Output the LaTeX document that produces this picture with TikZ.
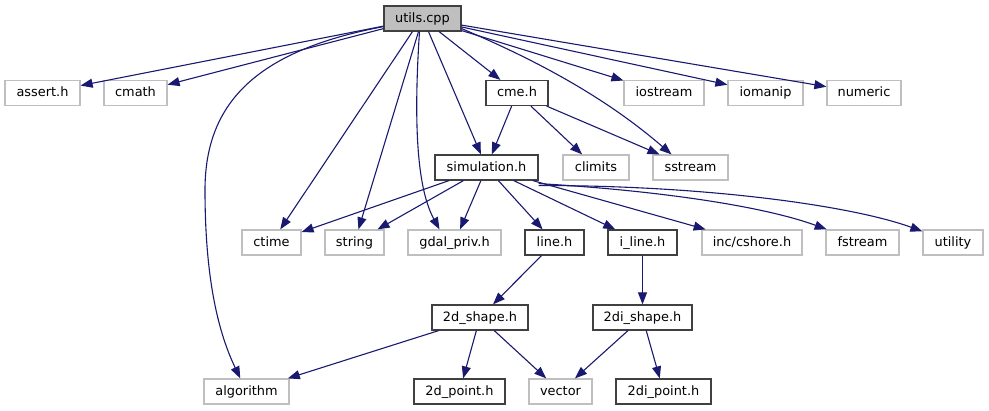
\documentclass[tikz,border=0pt]{standalone}
\usepackage{fontspec}
\setmainfont{DejaVu Sans}
\usepackage{tikz}
\usetikzlibrary{arrows.meta,calc}

\definecolor{edgeblue}{HTML}{191970}
\definecolor{extgray}{HTML}{BFBFBF}
\definecolor{docgray}{HTML}{404040}

\begin{document}
\begin{tikzpicture}[x=1pt,y=-1pt,
  box/.style={minimum height=25pt,inner sep=0pt,text height=9pt,text depth=1.6pt,
    line width=1.2pt,fill=white,font=\fontsize{12.9}{15}\selectfont},
  ext/.style={box,draw=extgray},
  doc/.style={box,draw=docgray},
  dep/.style={edgeblue,line width=1.1pt,-{Triangle[length=12pt,width=9pt]}}]
\useasboundingbox (0,0) rectangle (989,411);

\node[doc,fill=extgray,minimum width=77pt] (utils) at (422.5,18.5) {utils.cpp};

\node[ext,minimum width=75pt] (assert) at (42.5,93) {assert.h};
\node[ext,minimum width=63pt] (cmath) at (135.5,93) {cmath};
\node[doc,minimum width=62pt] (cme) at (517,93) {cme.h};
\node[ext,minimum width=80pt] (iostream) at (664,93) {iostream};
\node[ext,minimum width=75pt] (iomanip) at (765.5,93) {iomanip};
\node[ext,minimum width=74pt] (numeric) at (864,93) {numeric};

\node[doc,minimum width=103pt] (sim) at (486.5,167.5) {simulation.h};
\node[ext,minimum width=66pt] (climits) at (596,167.5) {climits};
\node[ext,minimum width=75pt] (sstream) at (690.5,167.5) {sstream};

\node[ext,minimum width=59pt] (ctime) at (271.5,242.5) {ctime};
\node[ext,minimum width=59pt] (string) at (354.5,242.5) {string};
\node[ext,minimum width=93pt] (gdal) at (454.5,242.5) {gdal\_priv.h};
\node[doc,minimum width=59pt] (line) at (554.5,242.5) {line.h};
\node[doc,minimum width=69pt] (iline) at (642.5,242.5) {i\_line.h};
\node[ext,minimum width=100pt] (cshore) at (752,242.5) {inc/cshore.h};
\node[ext,minimum width=73pt] (fstream) at (862.5,242.5) {fstream};
\node[ext,minimum width=60pt] (utility) at (953,242.5) {utility};

\node[doc,minimum width=96pt] (shape) at (480,317.5) {2d\_shape.h};
\node[doc,minimum width=99pt] (ishape) at (642.5,317.5) {2di\_shape.h};

\node[ext,minimum width=85pt] (algorithm) at (246.5,391.5) {algorithm};
\node[doc,minimum width=91pt] (point) at (459.5,391.5) {2d\_point.h};
\node[ext,minimum width=63pt] (vector) at (560.5,391.5) {vector};
\node[doc,minimum width=95pt] (ipoint) at (663.5,391.5) {2di\_point.h};

\coordinate (gdalin) at ($(gdal.north)+(-15,0)$);
\coordinate (ssin) at ($(sstream.north)+(-19,0)$);
\coordinate (ssin2) at ($(sstream.north)+(-31,0)$);

\draw[dep] (utils) -- (assert);
\draw[dep] (utils) -- (cmath);
\draw[dep] (utils) -- (cme);
\draw[dep] (utils) -- (iostream);
\draw[dep] (utils) -- (iomanip);
\draw[dep] (utils) -- (numeric);
\draw[dep] (utils.south east) ++(0,-3) .. controls (560,70) and (620,110) .. (ssin);
\draw[dep] (utils.south) ++(6,0) -- (sim);
\draw[dep] (utils.south) ++(-10,0) -- (ctime);
\draw[dep] (utils.south) ++(-4,0) -- (string);
\draw[dep] (utils.south) ++(-3,0) .. controls (413,130) and (418,190) .. (gdalin);
\draw[dep] (utils.south west) ++(0,-5) .. controls (260,50) and (205,100) .. (205,190)
  .. controls (205,290) and (222,340) .. (algorithm);

\draw[dep] (cme) -- (sim);
\draw[dep] (cme) -- (climits);
\draw[dep] (cme.south east) ++(-2,0) -- (ssin2);

\draw[dep] (sim) -- (ctime);
\draw[dep] (sim) -- (string);
\draw[dep] (sim) -- (gdal);
\draw[dep] (sim) -- (line);
\draw[dep] (sim) -- (iline);
\draw[dep] (sim) -- (cshore);
\draw[dep] (sim.south east) ++(0,3) .. controls (650,190) and (760,205) .. (fstream);
\draw[dep] (sim.south east) ++(0,5) .. controls (700,185) and (850,205) .. (utility);

\draw[dep] (line) -- (shape);
\draw[dep] (iline) -- (ishape);

\draw[dep] (shape) -- (algorithm);
\draw[dep] (shape) -- (point);
\draw[dep] (shape) -- (vector);
\draw[dep] (ishape) -- (vector);
\draw[dep] (ishape) -- (ipoint);
\end{tikzpicture}
\end{document}
